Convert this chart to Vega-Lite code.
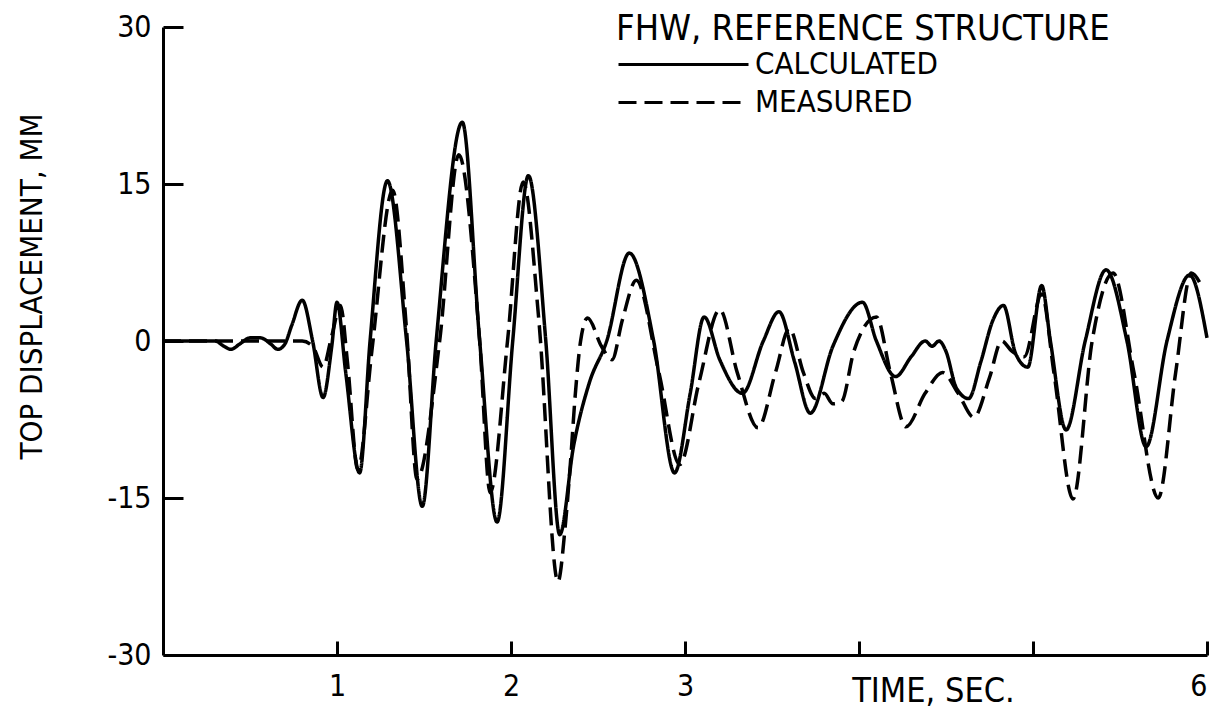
{
  "$schema": "https://vega.github.io/schema/vega-lite/v6.json",
  "width": 1044,
  "height": 628,
  "autosize": "none",
  "padding": {"left": 163, "top": 27, "right": 14, "bottom": 64},
  "background": "white",
  "config": {
    "view": {"stroke": null},
    "font": "Liberation Sans Narrow, DejaVu Sans Condensed, sans-serif",
    "axis": {"grid": false, "domainColor": "black", "domainWidth": 3, "tickColor": "black", "tickWidth": 3, "labelColor": "black", "titleColor": "black", "labelFont": "Liberation Sans Narrow, DejaVu Sans Condensed, sans-serif", "titleFont": "Liberation Sans Narrow, DejaVu Sans Condensed, sans-serif", "titleFontWeight": "normal"},
    "legend": {"labelFont": "Liberation Sans Narrow, DejaVu Sans Condensed, sans-serif", "titleFont": "Liberation Sans Narrow, DejaVu Sans Condensed, sans-serif"}
  },
  "datasets": {
    "calc": [
      {"t":0,"v":0},{"t":0.3,"v":0},{"t":0.35,"v":-0.5},{"t":0.39,"v":-0.8},{"t":0.44,"v":-0.3},{"t":0.5,"v":0.3},{"t":0.56,"v":0.3},{"t":0.62,"v":-0.3},{"t":0.66,"v":-0.8},{"t":0.7,"v":-0.3},{"t":0.74,"v":1.5},{"t":0.8,"v":3.9},{"t":0.86,"v":0},{"t":0.92,"v":-5.4},{"t":0.97,"v":-0.5},{"t":1.0,"v":3.7},{"t":1.05,"v":-3},{"t":1.13,"v":-12.6},{"t":1.19,"v":0},{"t":1.29,"v":15.3},{"t":1.4,"v":0},{"t":1.49,"v":-15.8},{"t":1.57,"v":0},{"t":1.72,"v":20.9},{"t":1.82,"v":0},{"t":1.92,"v":-17.3},{"t":2.01,"v":0},{"t":2.1,"v":15.8},{"t":2.2,"v":0},{"t":2.28,"v":-18.5},{"t":2.36,"v":-10},{"t":2.45,"v":-4},{"t":2.55,"v":0},{"t":2.68,"v":8.4},{"t":2.82,"v":0},{"t":2.94,"v":-12.6},{"t":3.03,"v":-5},{"t":3.11,"v":2.3},{"t":3.2,"v":-1.8},{"t":3.33,"v":-5},{"t":3.45,"v":0},{"t":3.54,"v":2.8},{"t":3.63,"v":-2},{"t":3.72,"v":-6.9},{"t":3.85,"v":-0.5},{"t":4.02,"v":3.7},{"t":4.1,"v":0},{"t":4.21,"v":-3.4},{"t":4.3,"v":-1.5},{"t":4.38,"v":0},{"t":4.42,"v":-0.5},{"t":4.46,"v":0},{"t":4.5,"v":-1},{"t":4.56,"v":-4.5},{"t":4.63,"v":-5.5},{"t":4.7,"v":-2},{"t":4.77,"v":2},{"t":4.83,"v":3.4},{"t":4.9,"v":-1.2},{"t":4.97,"v":-2.5},{"t":5.05,"v":5.3},{"t":5.1,"v":0},{"t":5.19,"v":-8.5},{"t":5.3,"v":0},{"t":5.42,"v":6.8},{"t":5.54,"v":0},{"t":5.65,"v":-10.1},{"t":5.77,"v":0},{"t":5.9,"v":6.3},{"t":6.0,"v":0.3}
    ],
    "meas": [
      {"t":0,"v":0},{"t":0.8,"v":0},{"t":0.86,"v":-0.5},{"t":0.92,"v":-2.5},{"t":0.97,"v":0.5},{"t":1.02,"v":3.4},{"t":1.06,"v":-2},{"t":1.12,"v":-12.3},{"t":1.2,"v":-1},{"t":1.32,"v":14.4},{"t":1.4,"v":1},{"t":1.46,"v":-13.2},{"t":1.59,"v":0},{"t":1.7,"v":17.8},{"t":1.82,"v":0},{"t":1.88,"v":-14.5},{"t":1.98,"v":0},{"t":2.07,"v":15.2},{"t":2.16,"v":2},{"t":2.27,"v":-23},{"t":2.31,"v":-18},{"t":2.34,"v":-12},{"t":2.37,"v":-5},{"t":2.4,"v":0},{"t":2.44,"v":2.2},{"t":2.52,"v":-0.5},{"t":2.58,"v":-1.8},{"t":2.64,"v":2},{"t":2.72,"v":5.8},{"t":2.85,"v":-3},{"t":2.97,"v":-11.8},{"t":3.08,"v":-4},{"t":3.2,"v":3},{"t":3.3,"v":-3},{"t":3.42,"v":-8.3},{"t":3.52,"v":-3},{"t":3.6,"v":1.2},{"t":3.68,"v":-3},{"t":3.75,"v":-5.5},{"t":3.8,"v":-5},{"t":3.85,"v":-6},{"t":3.9,"v":-5.8},{"t":3.97,"v":-1},{"t":4.1,"v":2.3},{"t":4.18,"v":-3},{"t":4.27,"v":-8.2},{"t":4.38,"v":-5},{"t":4.48,"v":-3},{"t":4.57,"v":-5},{"t":4.66,"v":-7.3},{"t":4.75,"v":-3.5},{"t":4.82,"v":0},{"t":4.88,"v":-1},{"t":4.95,"v":-1.5},{"t":5.05,"v":4.5},{"t":5.12,"v":-3},{"t":5.23,"v":-15.1},{"t":5.34,"v":0},{"t":5.46,"v":6.5},{"t":5.58,"v":-3},{"t":5.72,"v":-15},{"t":5.82,"v":-3},{"t":5.91,"v":6.5},{"t":5.97,"v":5.2}
    ]
  },
  "layer": [
    {
      "mark": {"type": "rule", "color": "#444", "strokeWidth": 2},
      "encoding": {"y": {"datum": 0, "type": "quantitative", "scale": {"domain": [-30, 30], "nice": false}}}
    },
    {
      "data": {"name": "calc"},
      "transform": [{"calculate": "'CALCULATED'", "as": "series"}],
      "mark": {"type": "line", "color": "black", "strokeWidth": 3.5, "interpolate": "monotone"},
      "encoding": {
        "x": {"field": "t", "type": "quantitative"},
        "y": {"field": "v", "type": "quantitative"},
        "strokeDash": {"field": "series", "type": "nominal"}
      }
    },
    {
      "data": {"name": "meas"},
      "transform": [{"calculate": "'MEASURED'", "as": "series"}],
      "mark": {"type": "line", "color": "black", "strokeWidth": 3.5, "interpolate": "monotone"},
      "encoding": {
        "x": {"field": "t", "type": "quantitative"},
        "y": {"field": "v", "type": "quantitative"},
        "strokeDash": {"field": "series", "type": "nominal"}
      }
    }
  ],
  "encoding": {
    "x": {"type": "quantitative", "scale": {"domain": [0, 6], "nice": false},
      "axis": {"values": [1, 2, 3, 4, 5, 6], "tickSize": -14, "labelPadding": 30, "labelFontSize": 30, "labelExpr": "datum.value == 4 || datum.value == 5 ? '' : datum.label", "title": "TIME, SEC.", "titleFontSize": 34, "titleX": 770, "titleY": 36, "titleAlign": "center", "titleBaseline": "middle"}},
    "y": {"type": "quantitative", "scale": {"domain": [-30, 30], "nice": false},
      "axis": {"values": [-30, -15, 0, 15, 30], "tickSize": -20, "labelPadding": 32, "labelFontSize": 30, "labelExpr": "replace(datum.label, '\u2212', '-')", "title": "TOP DISPLACEMENT, MM", "titleFontSize": 31, "titleX": -131, "titleY": 259, "titleAngle": -90, "titleAlign": "center", "titleBaseline": "middle"}},
    "strokeDash": {"field": "series", "type": "nominal",
      "scale": {"domain": ["CALCULATED", "MEASURED"], "range": [[1, 0], [18, 8]]},
      "legend": {"title": "FHW, REFERENCE STRUCTURE", "orient": "none", "legendX": 453, "legendY": -15, "symbolType": "M-1,0H9", "symbolSize": 676, "symbolStrokeWidth": 3, "symbolStrokeColor": "black", "titleFontSize": 36, "titleFontWeight": "normal", "titleColor": "black", "titleLimit": 900, "labelLimit": 400, "labelFontSize": 31, "labelColor": "black", "labelOffset": 108, "rowPadding": 6, "titlePadding": 1}}
  }
}
